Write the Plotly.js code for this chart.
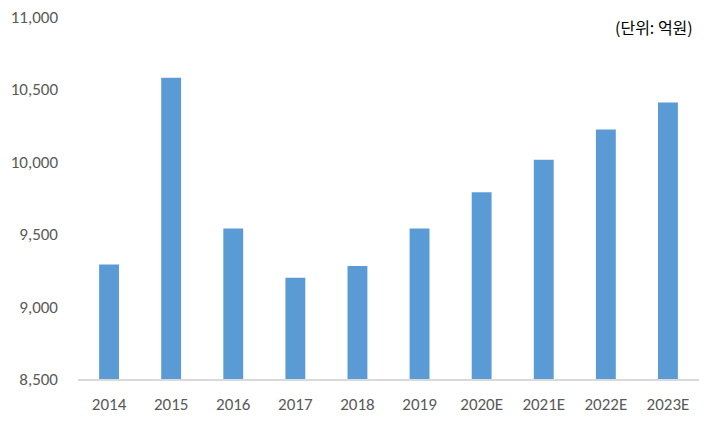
<!DOCTYPE html>
<html>
<head>
<meta charset="utf-8">
<script src="https://cdn.plot.ly/plotly-3.0.1.min.js"></script>
<style>html,body{margin:0;padding:0;background:#fff;}#chart{width:707px;height:422px;}</style>
</head>
<body>
<div id="chart"></div>
<script>
const categories = ["2014","2015","2016","2017","2018","2019","2020E","2021E","2022E","2023E"];
const values = [9290, 10580, 9540, 9200, 9280, 9540, 9790, 10015, 10223, 10409];
const yTicks = [8500, 9000, 9500, 10000, 10500, 11000];
const yTickLabels = ["8,500","9,000","9,500","10,000","10,500","11,000"];
const unitLabel = "(단위: 억원)";

const fontFam = "Carlito, Calibri, 'Liberation Sans', 'Noto Sans CJK KR', sans-serif";

Plotly.newPlot("chart", [{
  type: "bar",
  x: categories,
  y: values,
  marker: {color: "#5b9bd5"},
  hoverinfo: "x+y"
}], {
  width: 707, height: 422,
  margin: {l: 78, r: 8, t: 17, b: 42.5},
  paper_bgcolor: "#fff", plot_bgcolor: "#fff",
  bargap: 0.68,
  showlegend: false,
  font: {family: fontFam, size: 17, color: "#595959"},
  xaxis: {
    type: "category",
    showgrid: false,
    showline: true, linecolor: "#d9d9d9", linewidth: 1.5,
    ticks: "", ticklabelstandoff: 9,
    tickfont: {family: fontFam, size: 17, color: "#595959"}
  },
  yaxis: {
    range: [8500, 11000],
    tickvals: yTicks, ticktext: yTickLabels,
    showgrid: false, zeroline: false, showline: false,
    ticks: "", ticklabelstandoff: 19,
    tickfont: {family: fontFam, size: 17, color: "#595959"}
  },
  annotations: [{
    text: unitLabel,
    xref: "paper", yref: "paper",
    x: 0.9936, y: 0.972, xanchor: "right", yanchor: "middle",
    showarrow: false,
    font: {family: "'Noto Sans CJK KR', sans-serif", size: 16, color: "#000"}
  }]
}, {displayModeBar: false, staticPlot: true});
</script>
</body>
</html>
